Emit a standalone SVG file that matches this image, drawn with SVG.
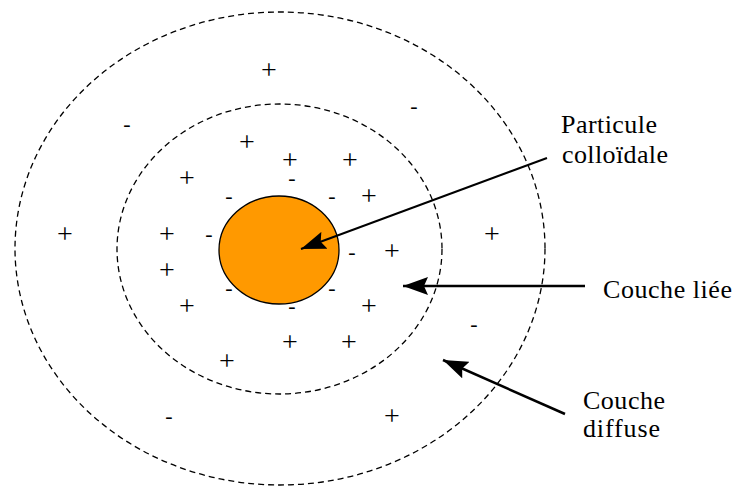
<svg xmlns="http://www.w3.org/2000/svg" width="735" height="486" viewBox="0 0 735 486">
<style>
.ring{fill:none;stroke:#000;stroke-width:1.3;stroke-dasharray:6 4}
.p{font-family:"Liberation Serif","Times New Roman",serif;font-size:28px;fill:#000;text-anchor:middle}
.m{font-family:"Liberation Serif","Times New Roman",serif;font-size:22px;fill:#000;text-anchor:middle}
.lbl{font-family:"Liberation Serif","Times New Roman",serif;font-size:26px;fill:#000}
.arr{fill:none;stroke:#000;stroke-width:2.5;marker-end:url(#ah)}
</style>
<defs>
<marker id="ah" viewBox="0 -9 25 18" refX="25" refY="0" markerWidth="25" markerHeight="18" markerUnits="userSpaceOnUse" orient="auto">
<path d="M0,-9 L25,0 L0,9 L4,0 z" fill="#000"/>
</marker>
</defs>
<rect width="735" height="486" fill="#fff"/>
<g id="couche-diffuse-ring"><ellipse class="ring" cx="280" cy="248.5" rx="265" ry="236.5"/></g>
<g id="couche-liee-ring"><ellipse class="ring" cx="279.5" cy="249" rx="162.5" ry="145"/></g>
<g id="particule"><ellipse cx="279" cy="250" rx="60" ry="54" fill="#FF9900" stroke="#000" stroke-width="1.3"/></g>
<g id="charges">
<text class="p" x="269" y="79">+</text>
<text class="m" x="414" y="113">-</text>
<text class="m" x="127" y="131">-</text>
<text class="p" x="247" y="151">+</text>
<text class="p" x="290" y="169">+</text>
<text class="p" x="350" y="169">+</text>
<text class="p" x="187" y="187">+</text>
<text class="m" x="292" y="185">-</text>
<text class="m" x="229" y="203">-</text>
<text class="m" x="332" y="203">-</text>
<text class="p" x="369" y="205">+</text>
<text class="p" x="65" y="243">+</text>
<text class="p" x="167" y="243">+</text>
<text class="m" x="209" y="241">-</text>
<text class="p" x="492" y="243">+</text>
<text class="m" x="352" y="259">-</text>
<text class="p" x="392" y="260">+</text>
<text class="p" x="167" y="279">+</text>
<text class="m" x="229" y="295">-</text>
<text class="m" x="332" y="295">-</text>
<text class="p" x="187" y="315">+</text>
<text class="m" x="292" y="313">-</text>
<text class="p" x="369" y="315">+</text>
<text class="m" x="474" y="331">-</text>
<text class="p" x="290" y="351">+</text>
<text class="p" x="349" y="351">+</text>
<text class="p" x="227" y="370">+</text>
<text class="m" x="169" y="423">-</text>
<text class="p" x="392" y="425">+</text>
</g>
<g id="connectors">
<line class="arr" x1="547" y1="158" x2="301" y2="249" style="stroke-width:2"/>
<line class="arr" x1="585" y1="286" x2="403" y2="286"/>
<line class="arr" x1="565" y1="414" x2="443" y2="360"/>
</g>
<g id="label-particule"><text class="lbl" x="561" y="133" textLength="96" lengthAdjust="spacing">Particule</text><text class="lbl" x="562" y="163" textLength="106" lengthAdjust="spacing">colloïdale</text></g>
<g id="label-couche-liee"><text class="lbl" x="603" y="298" textLength="129" lengthAdjust="spacing">Couche liée</text></g>
<g id="label-couche-diffuse"><text class="lbl" x="583" y="409" textLength="82" lengthAdjust="spacing">Couche</text><text class="lbl" x="583" y="437" textLength="77" lengthAdjust="spacing">diffuse</text></g>
</svg>
